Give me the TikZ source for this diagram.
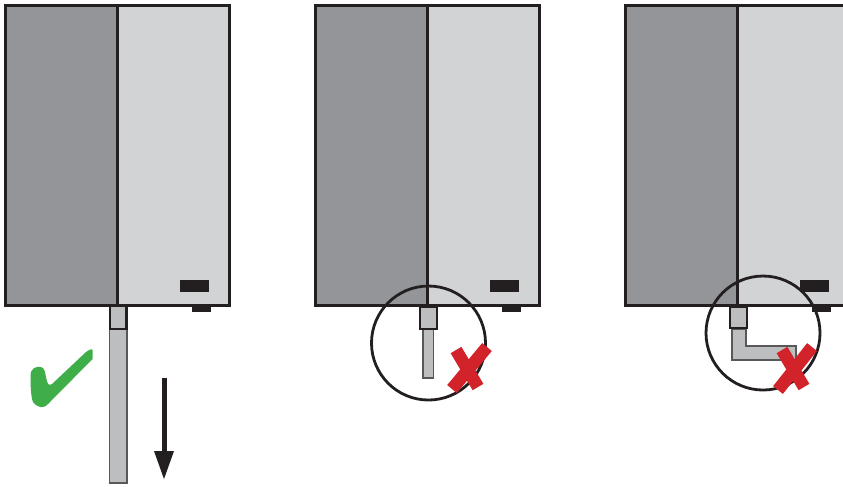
\documentclass[tikz,border=0pt]{standalone}
\definecolor{panelDark}{HTML}{939598}
\definecolor{panelLight}{HTML}{D1D3D4}
\definecolor{pipeGrey}{HTML}{BCBEC0}
\definecolor{inkBlack}{HTML}{231F20}
\definecolor{crossRed}{HTML}{D2232A}
\definecolor{tickGreen}{HTML}{3FAE49}
\tikzset{
    panel/.style={draw=inkBlack,line width=0.3mm},
    socket/.style={draw=inkBlack,fill=pipeGrey,line width=0.28mm},
    pipe/.style={draw=inkBlack!75,fill=pipeGrey,line width=0.18mm},
    lens/.style={draw=inkBlack,line width=0.28mm},
    crossbar/.style={draw=crossRed,line width=1.25mm}
}
\begin{document}
\begin{tikzpicture}[x=0.1mm,y=-0.1mm]
    \useasboundingbox (0,0) rectangle (843,486);
    \clip (0,0) rectangle (843,486);
    % the three units
    \foreach \dx in {0,310,620}{
        \begin{scope}[shift={(\dx,0)}]
            \fill[panelDark] (5,5) rectangle (117,305);
            \fill[panelLight] (117,5) rectangle (229,305);
            \draw[panel] (5,5) rectangle (229,305);
            \draw[panel] (117,5)--(117,305);
            \fill[inkBlack] (180,280) rectangle (209,292);
            \fill[inkBlack] (192,306) rectangle (211,312);
        \end{scope}
    }
    % left: long pipe
    \draw[pipe] (109.5,329) rectangle (127,483);
    \draw[socket] (110,306) rectangle (126.5,329);
    \draw[inkBlack,line width=0.5mm] (164,378)--(164,452);
    \fill[inkBlack] (154,451)--(174,451)--(164,479)--cycle;
    \fill[tickGreen] (30.5,376) .. controls (30.5,368) and (36,366) .. (41,367)
        .. controls (45,368) and (45,373) .. (46,377)
        .. controls (47,382) and (48,387) .. (52,384)
        -- (86,352) .. controls (89,350) and (92,348) .. (92.5,350)
        -- (92.5,359) -- (48,404) .. controls (43,409) and (38,408) .. (33,402)
        .. controls (31,398) and (30.5,385) .. (30.5,376) -- cycle;
    % middle: short pipe
    \draw[pipe] (423,329) rectangle (433.5,378);
    \draw[socket] (420,307) rectangle (437,329);
    \draw[lens] (428.5,343) circle (57);
    \draw[crossbar] (456,350)--(478,387);
    \draw[crossbar] (487,347)--(452,389);
    % right: bent pipe
    \draw[pipe] (732,329)--(732,360)--(796,360)--(796,346)--(746,346)--(746,329)--cycle;
    \draw[socket] (730,307) rectangle (747,328);
    \draw[lens] (763,333) circle (57);
    \draw[crossbar] (782,350)--(804,387);
    \draw[crossbar] (812,347)--(778,390);
\end{tikzpicture}
\end{document}
